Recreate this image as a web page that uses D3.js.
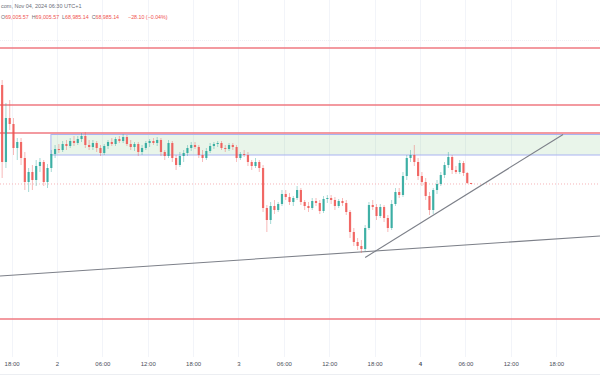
<!DOCTYPE html>
<html><head><meta charset="utf-8">
<script src="https://cdn.jsdelivr.net/npm/d3@7"></script>
<style>body{margin:0;background:#fff}svg{display:block;font-family:"Liberation Sans",Arial,sans-serif}</style>
</head><body><svg id="c" width="600" height="385"></svg>
<script>
// ---- data ----
const startTime = "2024-11-01T16:30:00Z";   // first 30-minute bar
const barMinutes = 30;
const opens = [70965,69425,70305,70185,69705,69825,69505,69025,69225,69065,
69345,69425,69025,69305,69585,69685,69665,69785,69745,69845,
69805,69885,69945,69765,69725,69805,69705,69605,69745,69825,
69785,69885,69845,69925,69785,69725,69785,69625,69705,69805,
69845,69805,69865,69625,69545,69805,69505,69365,69545,69605,
69705,69765,69725,69565,69505,69645,69745,69785,69805,69705,
69685,69765,69725,69505,69585,69565,69425,69345,69425,69305,
68505,68265,68545,68465,68585,68785,68725,68625,68705,68865,
68625,68545,68505,68645,68605,68445,68685,68705,68665,68545,
68645,68605,68425,68025,67825,67745,67685,68105,68565,68525,
68345,68525,68305,68105,68585,68825,68765,69145,69505,69565,
69425,69145,69025,68745,68465,68865,68985,69165,69365,69525,
69265,69225,69405,69205,69005.57];
const highs = [71065,70605,70665,70305,69905,69905,69625,69305,69365,69465,
69505,69465,69385,69665,69765,69785,69845,69865,69905,69945,
69945,70005,70025,69865,69865,69845,69765,69785,69865,69905,
69925,69945,69985,69965,69865,69825,69825,69765,69845,69885,
69905,69925,69905,69665,69865,69845,69565,69625,69665,69765,
69825,69825,69765,69665,69705,69805,69825,69845,69845,69765,
69805,69805,69765,69625,69665,69625,69465,69505,69465,69365,
68565,68625,68665,68625,68865,68865,68805,68745,68945,68905,
68665,68625,68705,68705,68665,68745,68765,68765,68725,68685,
68705,68665,68465,68105,67905,67865,68165,68625,68665,68585,
68585,68565,68365,68665,68905,68905,69225,69565,69665,69765,
69505,69225,69105,68825,68905,69065,69225,69425,69625,69565,
69345,69465,69445,69225,69005.57];
const lows = [69105,69305,70065,69565,69465,69365,68865,68825,68865,68945,
69225,68945,68905,69225,69505,69605,69625,69665,69705,69745,
69765,69825,69705,69665,69665,69625,69545,69565,69685,69745,
69745,69805,69805,69745,69665,69645,69545,69565,69665,69725,
69765,69745,69545,69465,69505,69425,69265,69325,69425,69545,
69645,69685,69505,69425,69465,69605,69685,69725,69665,69625,
69645,69665,69425,69465,69525,69345,69265,69305,69225,68425,
68025,68185,68385,68425,68545,68665,68565,68545,68665,68565,
68465,68425,68465,68545,68385,68405,68605,68585,68465,68505,
68545,68365,67905,67745,67665,67605,67645,68065,68465,68265,
68305,68225,68025,68065,68545,68705,68725,69065,69425,69345,
69065,68945,68665,68365,68385,68785,68945,69105,69305,69185,
69185,69185,69145,68985,68985.14];
const closes = [69425,70305,70185,69705,69825,69505,69025,69225,69065,69345,
69425,69025,69305,69585,69685,69665,69785,69745,69845,69805,
69885,69945,69765,69725,69805,69705,69605,69745,69825,69785,
69885,69845,69925,69785,69725,69785,69625,69705,69805,69845,
69805,69865,69625,69545,69805,69505,69365,69545,69605,69705,
69765,69725,69565,69505,69645,69745,69785,69805,69705,69685,
69765,69725,69505,69585,69565,69425,69345,69425,69305,68505,
68265,68545,68465,68585,68785,68725,68625,68705,68865,68625,
68545,68505,68645,68605,68445,68685,68705,68665,68545,68645,
68605,68425,68025,67825,67745,67685,68105,68565,68525,68345,
68525,68305,68105,68585,68825,68765,69145,69505,69565,69425,
69145,69025,68745,68465,68865,68985,69165,69365,69525,69265,
69225,69405,69205,69005.57,68985.14];

const tickTimes = ["2024-11-01T18:00Z","2024-11-02T00:00Z","2024-11-02T06:00Z","2024-11-02T12:00Z",
"2024-11-02T18:00Z","2024-11-03T00:00Z","2024-11-03T06:00Z","2024-11-03T12:00Z","2024-11-03T18:00Z",
"2024-11-04T00:00Z","2024-11-04T06:00Z","2024-11-04T12:00Z","2024-11-04T18:00Z"];
const tickLabels = ["18:00","2","06:00","12:00","18:00","3","06:00","12:00","18:00","4","06:00","12:00","18:00"];

const levelPrices = [71705, 70565, 70005, 66285];      // red horizontal lines
const zoneStart = "2024-11-01T23:12:00Z";
const zoneTop = 69975, zoneBottom = 69565;
const lastPrice = 68985.14;
const trendA = [["2024-11-01T16:28:00Z", 67145], ["2024-11-04T23:48:00Z", 67945]];
const trendB = [["2024-11-03T16:45:00Z", 67515], ["2024-11-04T18:55:00Z", 69975]];

const headerLine1 = "com, Nov 04, 2024 06:30 UTC+1";
const ohlcKeys = ["O","H","L","C"];
const ohlcVals = ["69,005.57","69,005.57","68,985.14","68,985.14"];
const changeText = "\u221228.10 (\u22120.04%)";

// ---- layout ----
const W = 600, H = 385, plotBottom = 357;
const svg = d3.select("#c");
svg.append("rect").attr("width", W).attr("height", H).attr("fill", "#fff");

const x = d3.scaleUtc()
  .domain([new Date("2024-11-01T16:28:00Z"), new Date("2024-11-04T23:48:00Z")])
  .range([0, W]);
const y = d3.scaleLinear().domain([65525, 72665]).range([plotBottom, 0]);

const t0 = new Date(startTime).getTime();
const bars = closes.map((c, i) => ({
  t: new Date(t0 + (i * barMinutes + barMinutes / 2) * 60000),
  o: opens[i], h: highs[i], l: lows[i], c
}));

// grid
const ticks = tickTimes.map(s => new Date(s));
svg.append("g").selectAll("line").data(ticks).join("line")
  .attr("x1", d => Math.round(x(d)) + 0.5).attr("x2", d => Math.round(x(d)) + 0.5)
  .attr("y1", 0).attr("y2", plotBottom)
  .attr("stroke", "#f2f4f9").attr("stroke-width", 1);
svg.append("line").attr("x1", 0).attr("x2", W).attr("y1", 40.5).attr("y2", 40.5)
  .attr("stroke", "#eef0f4").attr("stroke-dasharray", "1,1");

// zone
svg.append("rect")
  .attr("x", x(new Date(zoneStart))).attr("y", y(zoneTop))
  .attr("width", W + 10 - x(new Date(zoneStart))).attr("height", y(zoneBottom) - y(zoneTop))
  .attr("fill", "rgba(76,175,80,0.12)").attr("stroke", "#a9b3f2").attr("stroke-width", 1);

// levels
svg.append("g").selectAll("line").data(levelPrices).join("line")
  .attr("x1", 0).attr("x2", W).attr("y1", d => y(d)).attr("y2", d => y(d))
  .attr("stroke", "#ef7880").attr("stroke-width", 1.3);

// last price line
svg.append("line").attr("x1", 0).attr("x2", W).attr("y1", y(lastPrice)).attr("y2", y(lastPrice))
  .attr("stroke", "#f6b3b7").attr("stroke-width", 1).attr("stroke-dasharray", "1,2");

// trend lines
const line = d3.line().x(d => x(new Date(d[0]))).y(d => y(d[1]));
[trendA, trendB].forEach(tl => {
  svg.append("path").attr("d", line(tl)).attr("fill", "none")
    .attr("stroke", "#7d8089").attr("stroke-width", 1.1);
});

// candles
const up = "#26a69a", down = "#ef5350";
const cg = svg.append("g");
cg.selectAll("line").data(bars).join("line")
  .attr("x1", d => x(d.t)).attr("x2", d => x(d.t))
  .attr("y1", d => y(d.h)).attr("y2", d => y(d.l))
  .attr("stroke", d => d.c >= d.o ? up : down).attr("stroke-width", 0.8).attr("opacity", 0.5);
cg.selectAll("rect").data(bars).join("rect")
  .attr("x", d => x(d.t) - 1.1).attr("width", 2.2)
  .attr("y", d => y(Math.max(d.o, d.c)))
  .attr("height", d => Math.max(0.8, Math.abs(y(d.o) - y(d.c))))
  .attr("fill", d => d.c >= d.o ? up : down).attr("opacity", 0.85);

// x axis
const ax = svg.append("g").attr("transform", `translate(0,${plotBottom})`)
  .call(d3.axisBottom(x).tickValues(ticks).tickFormat((d, i) => tickLabels[i]).tickSize(0).tickPadding(5));
ax.select(".domain").remove();
ax.selectAll("text").attr("font-size", 6).attr("fill", "#4a4e59")
  .attr("font-weight", (d, i) => tickLabels[i] === "4" ? "bold" : null);
svg.append("line").attr("x1", 0).attr("x2", W).attr("y1", 374.5).attr("y2", 374.5)
  .attr("stroke", "#eceef2");

// header
svg.append("text").attr("x", 1).attr("y", 8).attr("font-size", 5.5).attr("fill", "#6a6d78").text(headerLine1);
let hx = 1;
ohlcKeys.forEach((k, i) => {
  const t = svg.append("text").attr("x", hx).attr("y", 19).attr("font-size", 5.3);
  t.append("tspan").attr("fill", "#6a6d78").text(k);
  t.append("tspan").attr("fill", "#ef5350").text(ohlcVals[i]);
  hx += t.node().getComputedTextLength() + 3;
});
svg.append("text").attr("x", hx + 6).attr("y", 19).attr("font-size", 5.3).attr("fill", "#ef5350").text(changeText);
</script></body></html>
